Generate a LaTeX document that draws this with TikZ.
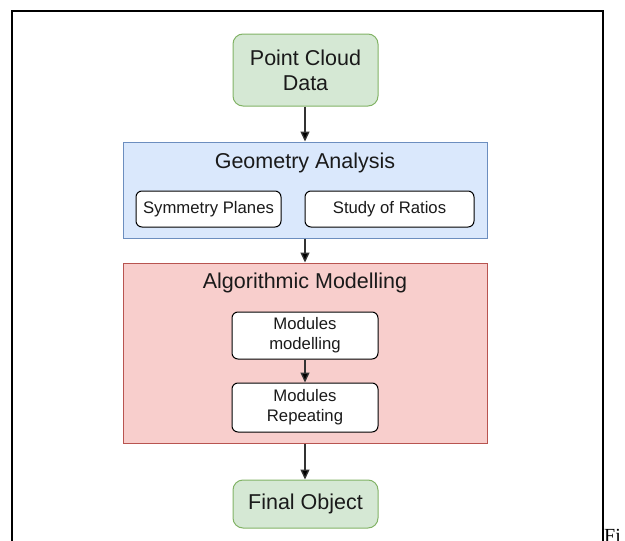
\documentclass[tikz,border=0pt]{standalone}
\usepackage{fontspec}
\setmainfont{Liberation Sans}
\newfontfamily\serifcap{Liberation Serif}
\usetikzlibrary{arrows.meta}

\definecolor{greenfill}{HTML}{D5E8D4}
\definecolor{greenline}{HTML}{82B366}
\definecolor{bluefill}{HTML}{DAE8FC}
\definecolor{blueline}{HTML}{6C8EBF}
\definecolor{redfill}{HTML}{F8CECC}
\definecolor{redline}{HTML}{B85450}
\definecolor{inktext}{HTML}{1A1A1A}
\definecolor{wireink}{HTML}{333333}

\tikzset{
  bigtext/.style={font=\fontsize{21.5}{25}\selectfont, text=inktext, align=center},
  smalltext/.style={font=\fontsize{16.7}{20}\selectfont, text=inktext, align=center},
  terminal/.style={bigtext, draw=greenline, fill=greenfill, line width=1pt,
    rounded corners=10pt, inner sep=0pt, minimum width=145pt},
  container/.style={draw=#1line, fill=#1fill, line width=1pt, inner sep=0pt},
  substep/.style={smalltext, draw=black, fill=white, line width=1pt,
    rounded corners=6pt, inner sep=0pt},
  flow/.style={draw=wireink, line width=1.3pt,
    -{Triangle[length=10pt,width=9pt,fill=black]}},
}

\begin{document}
\begin{tikzpicture}[x=1pt,y=-1pt]
  \useasboundingbox (0,0) rectangle (625,541);

  % frame round the figure
  \draw[line width=2pt] (12,560) -- (12,11) -- (602.5,11) -- (602.5,560);
  \node[anchor=base west, inner sep=0pt, font=\serifcap\fontsize{20}{24}\selectfont]
    (figlabel) at (604,542.5) {Fi};

  % input
  \node[terminal, minimum height=72pt] (pcd) at (305.5,70) {Point Cloud\\Data};

  % geometry analysis stage
  \node[container=blue, minimum width=364pt, minimum height=96pt] (geo) at (305,190) {};
  \node[bigtext, inner sep=0pt] (geolabel) at (305,163) {Geometry Analysis};
  \node[substep, minimum width=145pt, minimum height=36pt] (sym) at (208.5,209) {Symmetry Planes};
  \node[substep, minimum width=169pt, minimum height=36pt] (ratio) at (389.5,209) {Study of Ratios};

  % algorithmic modelling stage
  \node[container=red, minimum width=364pt, minimum height=180pt] (algo) at (305,353) {};
  \node[bigtext, inner sep=0pt] (algolabel) at (305,283) {Algorithmic Modelling};
  \node[substep, minimum width=146pt, minimum height=47pt] (modmod) at (305,335.5) {Modules\\modelling};
  \node[substep, minimum width=146pt, minimum height=49pt] (modrep) at (305,407.5) {Modules\\Repeating};

  % output
  \node[terminal, minimum height=48pt] (final) at (305.5,504) {Final Object};

  % connectors
  \draw[flow] (pcd.south -| geo.north) -- (geo.north);
  \draw[flow] (geo.south) -- (algo.north);
  \draw[flow] (modmod.south) -- (modrep.north);
  \draw[flow] (algo.south) -- (algo.south |- final.north);
\end{tikzpicture}
\end{document}
